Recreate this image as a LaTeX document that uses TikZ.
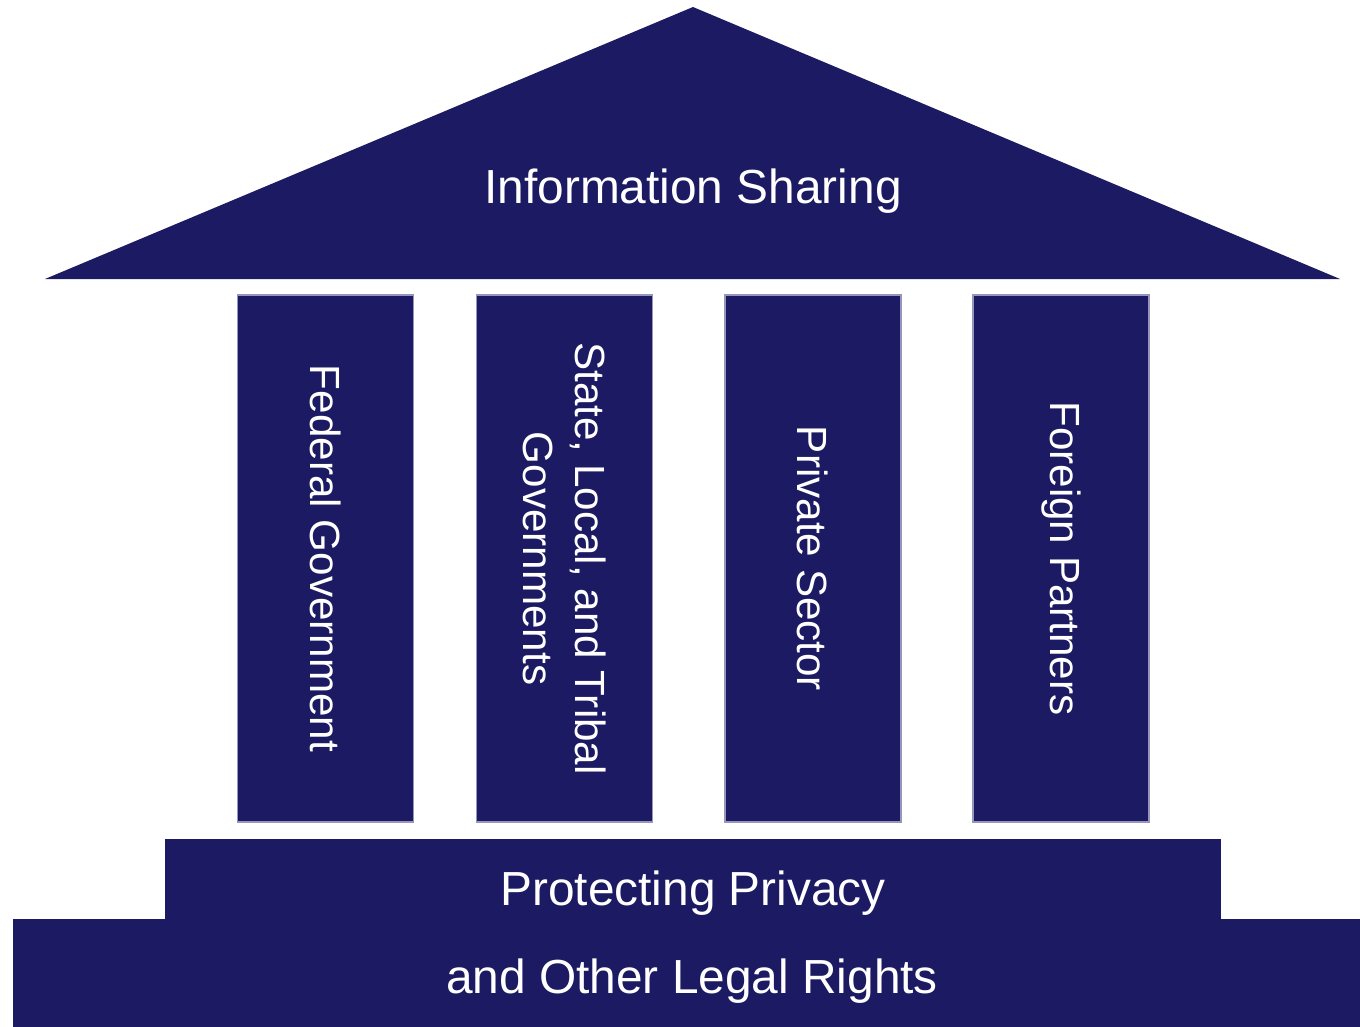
\documentclass[tikz,border=0pt]{standalone}
\usepackage{fontspec}
\setmainfont{Liberation Sans}
\usepackage{xcolor}
\usepackage{tikz}
\definecolor{navy}{RGB}{27,26,98}
\definecolor{rim}{RGB}{150,150,188}

\begin{document}
\begin{tikzpicture}[x=0.01cm,y=-0.01cm,
		every node/.style={text=white},
		label text/.style={font=\fontsize{13.6}{16}\selectfont},
		pillar/.style={fill=navy,draw=rim,line width=0.4pt,rotate=-90,inner sep=0pt,
			minimum width=5.27cm,minimum height=1.76cm,align=center,
			font=\fontsize{12}{14.8}\selectfont}]
			\useasboundingbox (0,0) rectangle (1360,1027);
			\fill[navy] (45,279) -- (693,7) -- (1340,279) -- cycle;
			\node[label text] (roof) at (693,191) {Information Sharing};
			\node[pillar] (federal) at (325.5,558.5) {Federal Government};
			\node[pillar] (state) at (564.5,558.5) {State, Local, and Tribal\\Governments};
			\node[pillar] (private) at (813,558.5) {Private Sector};
			\node[pillar] (foreign) at (1061,558.5) {Foreign Partners};
			\fill[navy] (165,839) rectangle (1221,919);
			\fill[navy] (13,919) rectangle (1360,1027);
			\node[label text] (privacy) at (693,893) {Protecting Privacy};
			\node[label text] (rights) at (692,981) {and Other Legal Rights};
		\end{tikzpicture}
\end{document}
